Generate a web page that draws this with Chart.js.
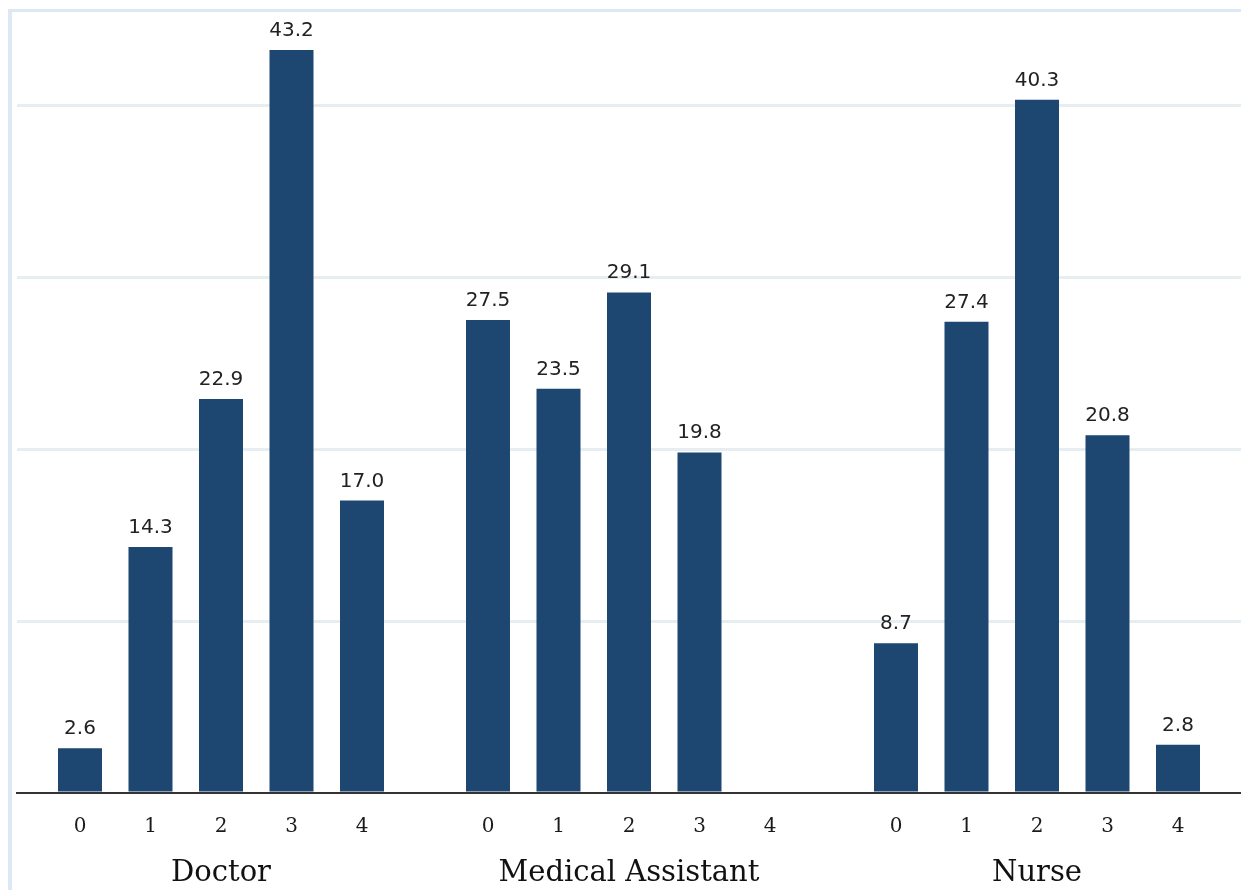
<!DOCTYPE html>
<html>
<head>
<meta charset="utf-8">
<script src="https://cdn.jsdelivr.net/npm/chart.js@4.4.1/dist/chart.umd.min.js"></script>
<style>
  html, body { margin: 0; padding: 0; background: #ffffff; }
  #wrap { position: relative; width: 1241px; height: 890px; overflow: hidden; }
  #frame { position: absolute; left: 8px; top: 9px; right: -10px; bottom: -10px;
           border-left: 4px solid #dce8f4; border-top: 3px solid #dce8f4; }
  #c { position: absolute; left: 0; top: 0; }
</style>
</head>
<body>
<div id="wrap">
  <div id="frame"></div>
  <canvas id="c" width="1241" height="890"></canvas>
</div>
<script>
// Occupations (x categories)
const occupations = ['Doctor', 'Medical Assistant', 'Nurse'];
// Score levels shown under each bar
const levels = ['0', '1', '2', '3', '4'];
// Percent values per level, in order Doctor, Medical Assistant, Nurse
const level0 = [2.6, 27.5, 8.7];
const level1 = [14.3, 23.5, 27.4];
const level2 = [22.9, 29.1, 40.3];
const level3 = [43.2, 19.8, 20.8];
const level4 = [17.0, null, 2.8];
const seriesValues = [level0, level1, level2, level3, level4];

const BAR_COLOR = '#1d4670';

const labelPlugin = {
  id: 'barLabels',
  afterDatasetsDraw(chart) {
    const ctx = chart.ctx;
    const bottom = chart.chartArea.bottom;
    ctx.save();
    ctx.textAlign = 'center';
    ctx.textBaseline = 'alphabetic';
    chart.data.datasets.forEach((ds, i) => {
      const meta = chart.getDatasetMeta(i);
      meta.data.forEach((el, j) => {
        const v = ds.data[j];
        if (v !== null && v !== undefined) {
          ctx.fillStyle = '#222222';
          ctx.font = '20px "DejaVu Sans", sans-serif';
          ctx.fillText(v.toFixed(1), el.x, el.y - 14);
        }
        ctx.fillStyle = '#1a1a1a';
        ctx.font = '20px "DejaVu Serif", serif';
        ctx.fillText(ds.label, el.x, bottom + 39);
      });
    });
    ctx.restore();
  }
};

new Chart(document.getElementById('c'), {
  type: 'bar',
  data: {
    labels: occupations,
    datasets: levels.map((lv, i) => ({
      label: lv,
      data: seriesValues[i],
      backgroundColor: BAR_COLOR,
      borderWidth: 0
    }))
  },
  options: {
    responsive: false,
    animation: false,
    devicePixelRatio: 1,
    categoryPercentage: 0.864,
    barPercentage: 0.624,
    layout: { padding: { left: 17, right: 0, top: 19, bottom: 0 } },
    plugins: {
      legend: { display: false },
      tooltip: { enabled: false },
      title: { display: false }
    },
    scales: {
      x: {
        grid: { display: false, drawTicks: false },
        border: { display: true, color: '#333333', width: 2 },
        ticks: {
          color: '#111111',
          font: { family: '"DejaVu Serif", serif', size: 29 },
          padding: 63,
          maxRotation: 0,
          autoSkip: false
        },
        afterFit(scale) { scale.height = 97; }
      },
      y: {
        min: 0,
        max: 45,
        ticks: { display: false, stepSize: 10 },
        grid: {
          drawTicks: false,
          lineWidth: 3,
          color: (c) => (c.tick && (c.tick.value === 0 || c.tick.value > 40) ? 'rgba(0,0,0,0)' : '#e6eef1')
        },
        border: { display: false }
      }
    }
  },
  plugins: [labelPlugin]
});
</script>
</body>
</html>
